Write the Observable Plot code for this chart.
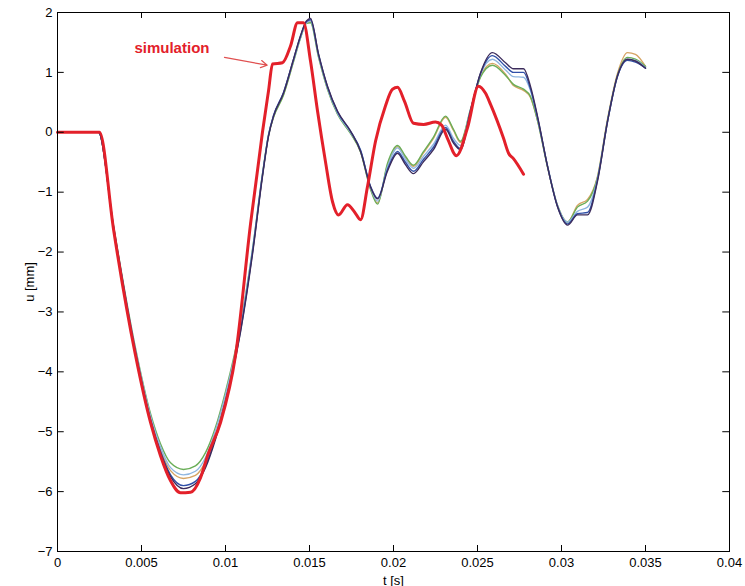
<!DOCTYPE html>
<html><head><meta charset="utf-8">
<script src="https://cdn.jsdelivr.net/npm/d3@7"></script>
<script src="https://cdn.jsdelivr.net/npm/@observablehq/plot@0.6"></script>
<style>body{margin:0;background:#fff;}</style>
</head><body><div id="chart"></div>
<script>
// Measured curves share one time grid (s)
const t = [0,0.00244,0.00333,0.00464,0.00554,0.00613,0.00673,0.0075,0.00821,0.00881,0.0094,0.01,0.01089,0.01161,0.0122,0.01256,0.01286,0.01345,0.01405,0.01446,0.01482,0.01506,0.01554,0.01607,0.01667,0.01744,0.01804,0.01863,0.01905,0.01964,0.02024,0.02071,0.02119,0.02179,0.02238,0.0231,0.02357,0.02399,0.02458,0.02518,0.02589,0.02667,0.02714,0.02774,0.02815,0.02857,0.02917,0.02976,0.03036,0.03095,0.03155,0.03214,0.03274,0.03333,0.03393,0.0344,0.035];
const uDark = [0,0,-1.58,-3.67,-4.82,-5.35,-5.75,-5.95,-5.87,-5.6,-5.13,-4.51,-3.34,-2.03,-0.74,-0.07,0.27,0.65,1.22,1.61,1.86,1.9,1.3,0.77,0.35,0.02,-0.32,-0.91,-1.11,-0.65,-0.35,-0.54,-0.69,-0.49,-0.29,0.05,-0.18,-0.29,0.35,0.99,1.33,1.16,1.06,1.06,0.77,0.27,-0.57,-1.24,-1.55,-1.38,-1.38,-0.82,0.18,0.94,1.22,1.19,1.07];
const uBlue = [0,0,-1.58,-3.66,-4.8,-5.33,-5.72,-5.9,-5.83,-5.57,-5.1,-4.48,-3.32,-2.0,-0.72,-0.05,0.28,0.66,1.22,1.6,1.85,1.88,1.3,0.76,0.34,0.02,-0.3,-0.9,-1.1,-0.62,-0.32,-0.5,-0.65,-0.45,-0.25,0.08,-0.15,-0.27,0.36,0.98,1.28,1.1,1.0,1.0,0.73,0.25,-0.57,-1.24,-1.53,-1.36,-1.34,-0.8,0.18,0.93,1.2,1.17,1.07];
const uLightBlue = [0,0,-1.56,-3.62,-4.74,-5.25,-5.6,-5.72,-5.66,-5.43,-4.98,-4.38,-3.25,-1.96,-0.7,-0.04,0.28,0.66,1.2,1.58,1.83,1.86,1.28,0.74,0.32,0.0,-0.3,-0.92,-1.15,-0.58,-0.26,-0.45,-0.6,-0.4,-0.2,0.12,-0.1,-0.22,0.38,0.97,1.22,1.04,0.93,0.92,0.7,0.24,-0.56,-1.22,-1.5,-1.32,-1.25,-0.78,0.18,0.93,1.22,1.2,1.08];
const uGreen = [0,0,-1.55,-3.6,-4.7,-5.2,-5.52,-5.63,-5.57,-5.35,-4.93,-4.33,-3.22,-1.95,-0.7,-0.05,0.25,0.62,1.18,1.57,1.82,1.83,1.25,0.72,0.3,-0.02,-0.33,-0.95,-1.2,-0.52,-0.22,-0.4,-0.55,-0.32,-0.08,0.27,0.05,-0.15,0.38,0.92,1.12,0.95,0.8,0.72,0.6,0.2,-0.58,-1.22,-1.5,-1.25,-1.15,-0.76,0.2,0.95,1.25,1.22,1.1];
const uOrange = [0,0,-1.57,-3.64,-4.77,-5.3,-5.65,-5.78,-5.73,-5.5,-5.05,-4.43,-3.28,-1.98,-0.71,-0.05,0.26,0.63,1.19,1.58,1.83,1.85,1.27,0.73,0.31,-0.01,-0.32,-0.94,-1.18,-0.55,-0.24,-0.42,-0.57,-0.34,-0.1,0.25,0.03,-0.17,0.37,0.94,1.15,0.97,0.78,0.7,0.58,0.2,-0.58,-1.22,-1.5,-1.22,-1.12,-0.74,0.22,0.98,1.33,1.3,1.1];
const seriesNames = ["orange","green","lightblue","blue","dark"];
const seriesValues = [uOrange,uGreen,uLightBlue,uBlue,uDark];
const seriesColors = ["#d6a464","#6aae58","#8fb6e0","#3050a8","#3c2c5c"];

// Simulation curve
const tSim = [0,0.0025,0.00333,0.00464,0.00554,0.00613,0.00673,0.00732,0.00792,0.00851,0.00893,0.0097,0.0106,0.01149,0.0122,0.01256,0.0128,0.01339,0.01387,0.01429,0.01464,0.01506,0.01548,0.01595,0.01637,0.01673,0.01726,0.01768,0.01804,0.01845,0.01893,0.01952,0.01994,0.02024,0.02065,0.02119,0.02179,0.0225,0.02286,0.02321,0.02375,0.0244,0.02506,0.02548,0.02577,0.02655,0.02685,0.02714,0.02774];
const uSim = [0,0,-1.61,-3.72,-4.85,-5.4,-5.82,-6.02,-6.01,-5.77,-5.4,-4.85,-3.72,-1.53,0,0.69,1.14,1.16,1.44,1.83,1.83,1.19,0.35,-0.49,-1.16,-1.38,-1.21,-1.33,-1.46,-0.91,-0.15,0.44,0.72,0.75,0.52,0.15,0.13,0.17,0.12,-0.1,-0.39,0.07,0.77,0.65,0.47,-0.1,-0.35,-0.44,-0.7];

// Ticks
const xTicks = [0,0.005,0.01,0.015,0.02,0.025,0.03,0.035,0.04];
const xTickLabels = ["0","0.005","0.01","0.015","0.02","0.025","0.03","0.035","0.04"];
const yTicks = [-7,-6,-5,-4,-3,-2,-1,0,1,2];
const yTickLabels = ["\u22127","\u22126","\u22125","\u22124","\u22123","\u22122","\u22121","0","1","2"];

// Annotation
const annotText = ["simulation"];
const annotTextPos = [[0.00458, 1.41]];
const annotArrow = [[0.00994, 1.25, 0.01248, 1.12]];

const rows = [];
seriesNames.forEach((name, i) => t.forEach((tt, j) => rows.push({series: name, t: tt, u: seriesValues[i][j]})));
const sim = tSim.map((tt, j) => ({t: tt, u: uSim[j]}));
const red = "#e3202a";

const plot = Plot.plot({
  width: 745, height: 586,
  marginLeft: 57, marginRight: 16, marginTop: 12, marginBottom: 35,
  style: {fontFamily: "'Liberation Sans', Arial, sans-serif", fontSize: "13px", background: "#fff", color: "#000"},
  x: {domain: [0, 0.04]},
  y: {domain: [-7, 2]},
  color: {domain: seriesNames, range: seriesColors},
  marks: [
    Plot.line(rows, {x: "t", y: "u", z: "series", stroke: "series", strokeWidth: 1.4, curve: "monotone-x"}),
    Plot.line(sim, {x: "t", y: "u", stroke: red, strokeWidth: 3, curve: "monotone-x"}),
    Plot.frame({stroke: "#000", strokeWidth: 1}),
    Plot.ruleX(xTicks, {x: d => d, y1: -7, y2: -6.9, stroke: "#000"}),
    Plot.ruleX(xTicks, {x: d => d, y1: 2, y2: 1.9, stroke: "#000"}),
    Plot.ruleY(yTicks, {y: d => d, x1: 0, x2: 0.0004, stroke: "#000"}),
    Plot.ruleY(yTicks, {y: d => d, x1: 0.04, x2: 0.0396, stroke: "#000"}),
    Plot.axisX({ticks: xTicks, tickSize: 0, tickPadding: 6, tickFormat: d => xTickLabels[xTicks.indexOf(d)],
      label: "t [s]", labelAnchor: "center", labelOffset: 33, labelArrow: "none"}),
    Plot.axisY({ticks: yTicks, tickSize: 0, tickPadding: 5, tickFormat: d => yTickLabels[yTicks.indexOf(d)],
      label: "u [mm]", labelAnchor: "center", labelOffset: 33, labelArrow: "none"}),
    Plot.arrow(annotArrow, {x1: d => d[0], y1: d => d[1], x2: d => d[2], y2: d => d[3], stroke: "#e05050", strokeWidth: 1.2, headLength: 9}),
    Plot.text(annotText, {x: (d, i) => annotTextPos[i][0], y: (d, i) => annotTextPos[i][1], text: d => d, fill: red, fontWeight: "bold", fontSize: 15, textAnchor: "start"})
  ]
});
document.getElementById("chart").appendChild(plot);
</script>
</body></html>
